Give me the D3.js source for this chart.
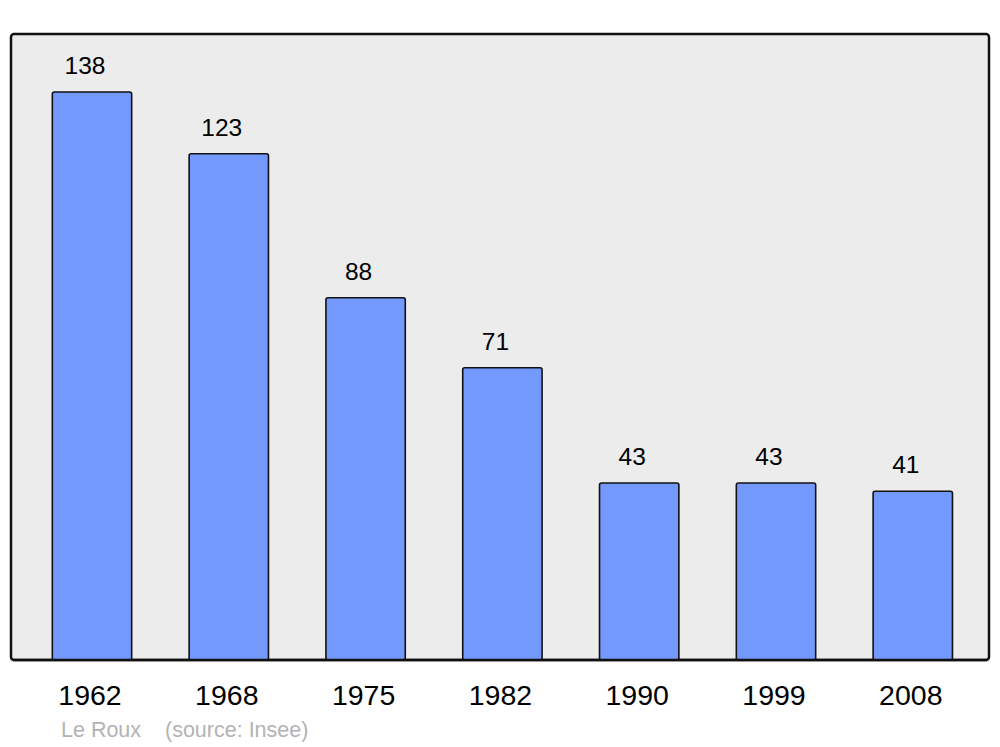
<!DOCTYPE html>
<html><head><meta charset="utf-8">
<script src="https://cdn.jsdelivr.net/npm/d3@7"></script>
<style>body{margin:0;background:#fff}svg{display:block}</style>
</head><body>
<script>
const years = ["1962","1968","1975","1982","1990","1999","2008"];
const population = [138,123,88,71,43,43,41];
const footerAuthor = "Le Roux";
const footerSource = "(source: Insee)";

const W = 1000, H = 747;
const svg = d3.select("body").append("svg").attr("width", W).attr("height", H);
const font = "'Liberation Sans', Arial, sans-serif";

const frame = {x0: 11, y0: 34, x1: 989, y1: 660};
svg.append("rect").attr("x", frame.x0).attr("y", frame.y0)
  .attr("width", frame.x1 - frame.x0).attr("height", frame.y1 - frame.y0)
  .attr("rx", 3).attr("fill", "#ececec").attr("stroke", "#111").attr("stroke-width", 2.5);

const x = d3.scaleBand().domain(years).range([23.6, 981.2]).paddingInner(0.42).paddingOuter(0.21);
const y = d3.scaleLinear().domain([0, 152.1]).range([frame.y1, frame.y0]);

const g = svg.append("g");
g.selectAll("rect.bar").data(years).join("rect").attr("class", "bar")
  .attr("x", d => x(d)).attr("width", x.bandwidth())
  .attr("y", (d, i) => y(population[i])).attr("height", (d, i) => frame.y1 - y(population[i]))
  .attr("rx", 2).attr("fill", "#7399ff").attr("stroke", "#111").attr("stroke-width", 1.6);

g.selectAll("text.val").data(years).join("text").attr("class", "val")
  .attr("x", d => x(d) + x.bandwidth() / 2 - 7).attr("y", (d, i) => y(population[i]) - 18)
  .attr("text-anchor", "middle").attr("font-family", font).attr("font-size", 24.5).attr("fill", "#000")
  .text((d, i) => population[i]);

svg.append("line").attr("x1", frame.x0 + 2).attr("x2", frame.x1 - 2).attr("y1", frame.y1).attr("y2", frame.y1)
  .attr("stroke", "#111").attr("stroke-width", 2.5);

const axis = d3.axisBottom(x).tickSize(0).tickPadding(0);
const ag = svg.append("g").attr("transform", `translate(0,${frame.y1})`).call(axis);
ag.select(".domain").remove();
ag.selectAll("text").attr("font-family", font).attr("font-size", 28.5).attr("fill", "#000")
  .attr("dy", null).attr("y", 45).attr("x", -2);

svg.append("text").attr("x", 61).attr("y", 737).attr("font-family", font).attr("font-size", 21.5)
  .attr("fill", "#b3b3b3").text(footerAuthor);
svg.append("text").attr("x", 165).attr("y", 737).attr("font-family", font).attr("font-size", 21.5)
  .attr("fill", "#b3b3b3").text(footerSource);
</script>
</body></html>
